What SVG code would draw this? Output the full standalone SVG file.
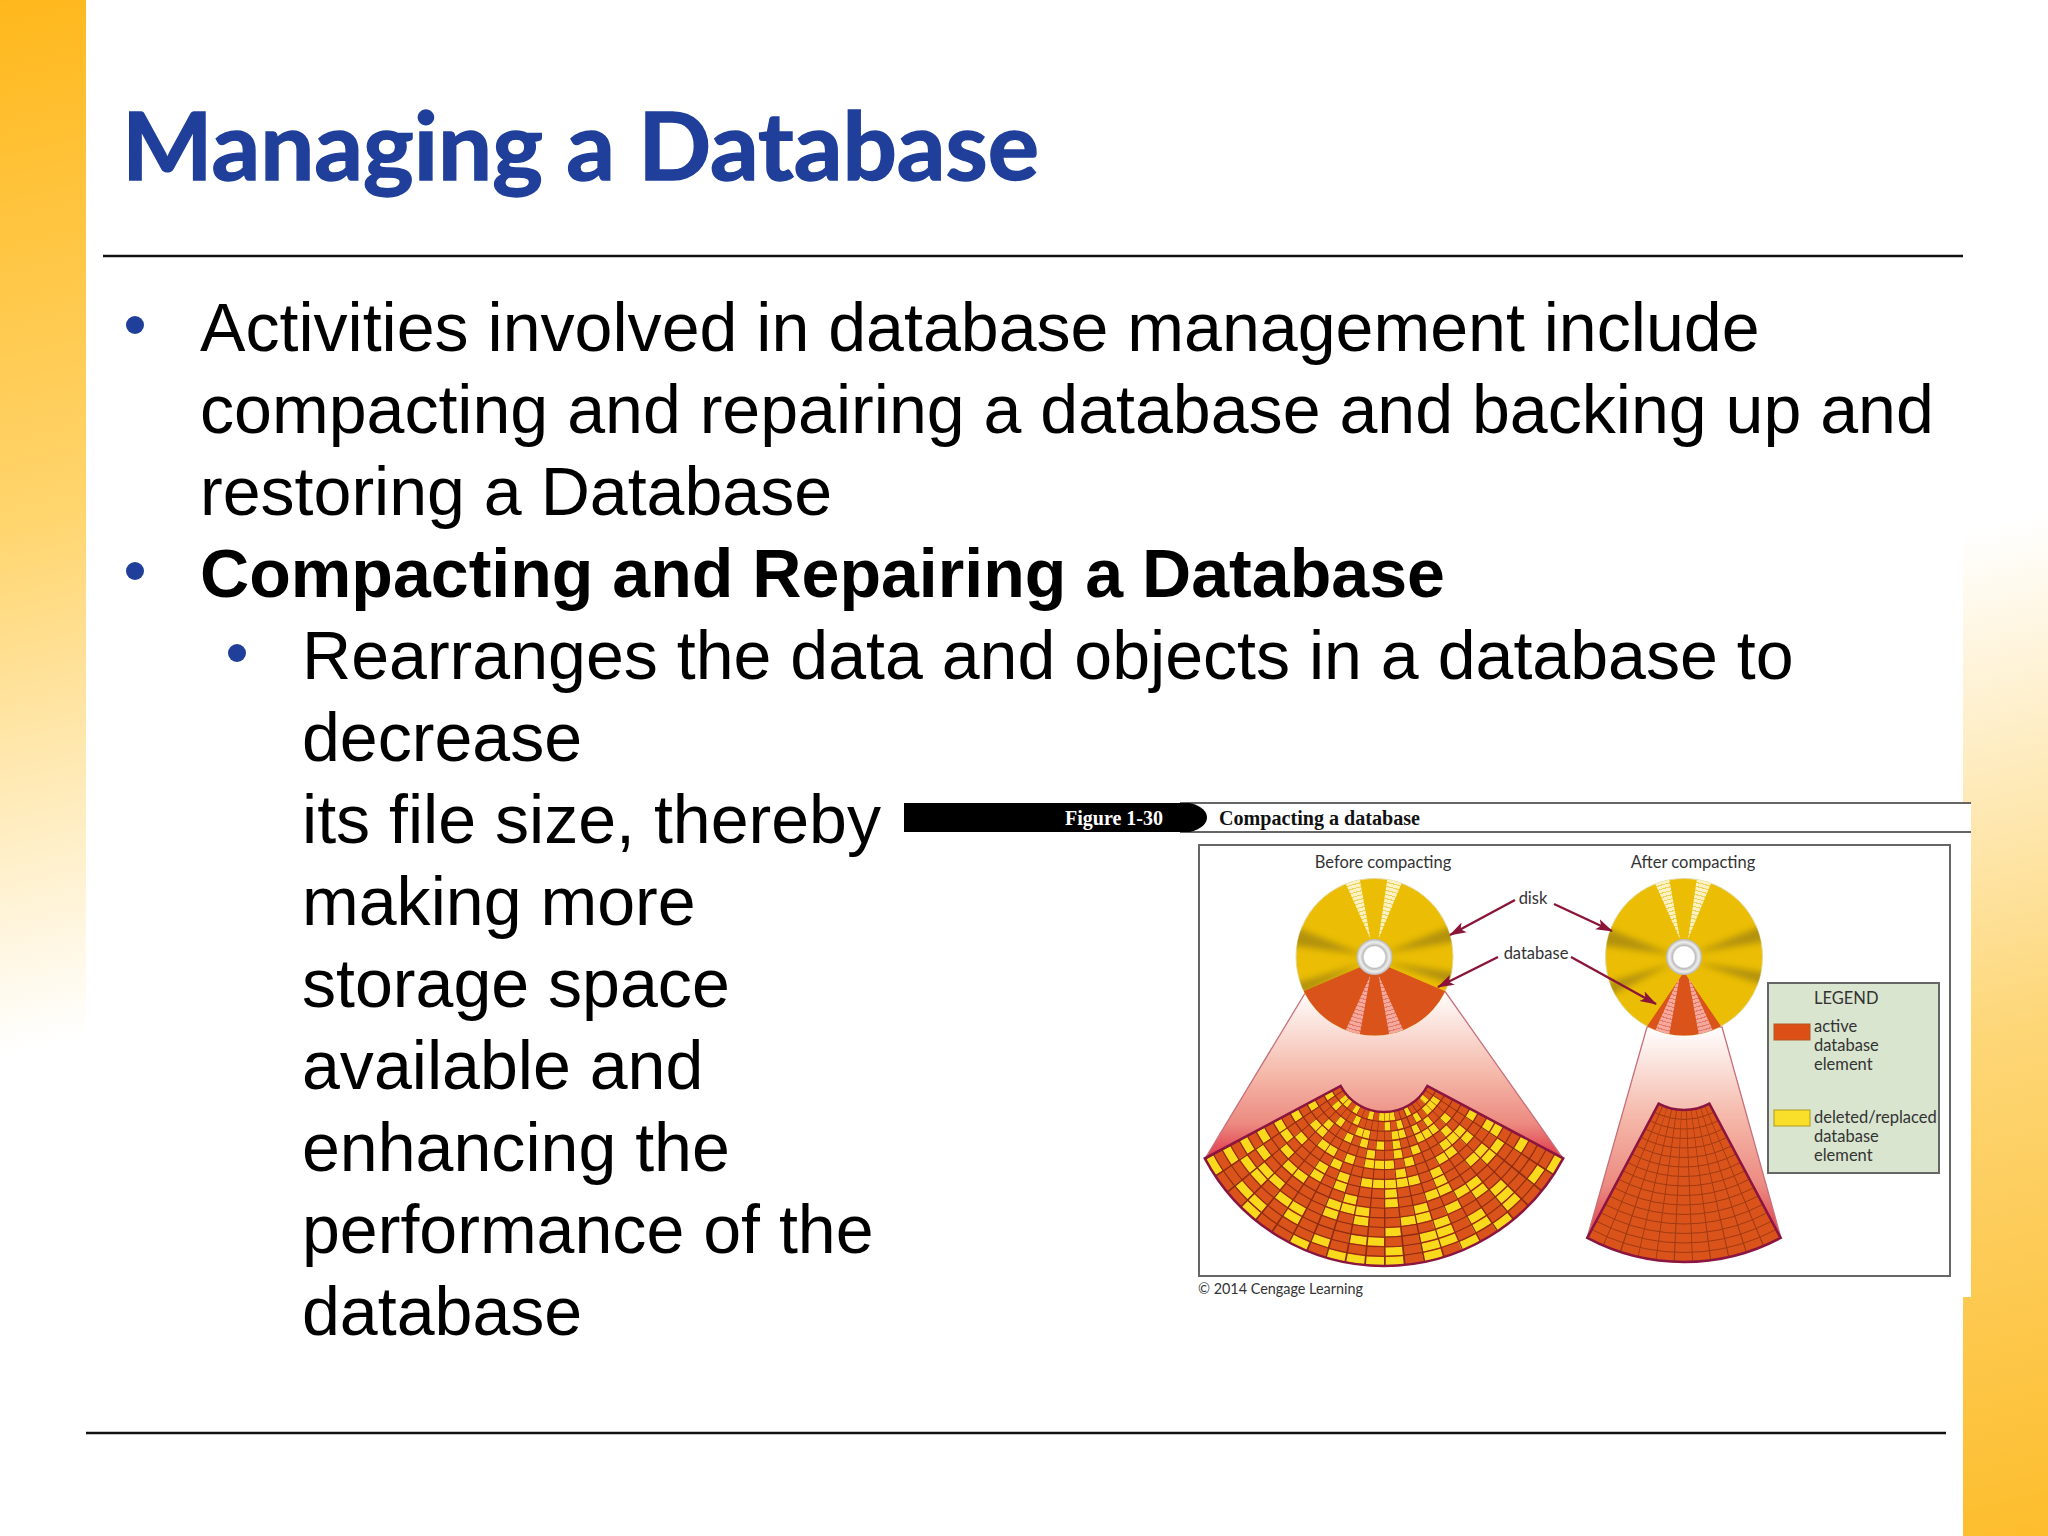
<svg xmlns="http://www.w3.org/2000/svg" xmlns:xlink="http://www.w3.org/1999/xlink" width="2048" height="1536" viewBox="0 0 2048 1536">
<style>
.b{font-family:"Liberation Sans",Arial,sans-serif;font-size:68.1px;fill:#000}
.s{font-family:Lato,"Noto Sans",sans-serif;font-size:16.5px;fill:#333}
.f{font-family:"Liberation Serif",serif;font-size:20px;font-weight:bold}
.bu{fill:#1f3f9a}
.y{fill:none;stroke:#f9d91c;stroke-width:8.2}
.g{fill:none;stroke:#8c2c12;stroke-width:1.1}
.g2{fill:none;stroke:#a03a14;stroke-width:1}
.o{fill:#d9531a}
.e{fill:none;stroke:#8a1540;stroke-width:2.5;stroke-linejoin:miter}
.a{fill:none;stroke:#8a1538;stroke-width:2.4;marker-end:url(#ah)}
.beam{stroke:#c8707a;stroke-width:1.3}
.fr{stroke:#666;stroke-width:2}
</style>
<defs>
<linearGradient id="gl" gradientUnits="userSpaceOnUse" x1="0" y1="0" x2="240" y2="1000"><stop offset="0" stop-color="#ffb81c"/><stop offset=".5" stop-color="#ffd56e"/><stop offset="1" stop-color="#fff"/></linearGradient>
<linearGradient id="gr" gradientUnits="userSpaceOnUse" x1="2048" y1="1536" x2="1810" y2="570"><stop offset="0" stop-color="#fdbd2c"/><stop offset=".5" stop-color="#fdd676"/><stop offset="1" stop-color="#fff"/></linearGradient>
<linearGradient id="b1" gradientUnits="userSpaceOnUse" x1="0" y1="990" x2="0" y2="1157"><stop offset="0" stop-color="#fff"/><stop offset=".5" stop-color="#f5b9aa"/><stop offset=".8" stop-color="#ec8a80"/><stop offset="1" stop-color="#e03a4c"/></linearGradient>
<linearGradient id="b2" gradientUnits="userSpaceOnUse" x1="0" y1="1027" x2="0" y2="1238"><stop offset="0" stop-color="#fff"/><stop offset=".42" stop-color="#f5b9aa"/><stop offset=".75" stop-color="#ec8a80"/><stop offset="1" stop-color="#e03a4c"/></linearGradient>
<radialGradient id="rc" gradientUnits="userSpaceOnUse" cx="0" cy="0" r="4" spreadMethod="repeat"><stop offset="0" stop-color="#fdf2c4"/><stop offset=".72" stop-color="#fdf2c4"/><stop offset=".73" stop-color="#f2d25a"/><stop offset="1" stop-color="#f2d25a"/></radialGradient>
<radialGradient id="rp" gradientUnits="userSpaceOnUse" cx="0" cy="0" r="4" spreadMethod="repeat"><stop offset="0" stop-color="#f3a8a0"/><stop offset=".72" stop-color="#f3a8a0"/><stop offset=".73" stop-color="#e67a60"/><stop offset="1" stop-color="#e67a60"/></radialGradient>
<radialGradient id="hub"><stop offset=".56" stop-color="#fff"/><stop offset=".64" stop-color="#bdbdbd"/><stop offset=".82" stop-color="#efefef"/><stop offset="1" stop-color="#b5b5b5"/></radialGradient>
<filter id="bl" x="-30%" y="-30%" width="160%" height="160%"><feGaussianBlur stdDeviation="3"/></filter>
<marker id="ah" markerUnits="userSpaceOnUse" markerWidth="18" markerHeight="12" refX="16" refY="6" orient="auto"><path d="M0,0.5 L17,6 L0,11.5 L4,6 Z" fill="#8a1538"/></marker>
<clipPath id="cd"><circle r="78.5"/></clipPath>
<clipPath id="cs1"><path d="M0,4 L-70.7,34.2 A78.5,78.5 0 0 0 70.7,34.2 Z"/></clipPath>
<clipPath id="cs2"><path d="M0,15 L-37,69.3 A78.5,78.5 0 0 0 37,69.3 Z"/></clipPath>
<clipPath id="cf1"><path d="M1204.8,1158.3 L1340.7,1086 A49 49 0 0 0 1427.3,1086 L1563.2,1158.3 A203 203 0 0 1 1204.8,1158.3 Z"/></clipPath>
<clipPath id="cf2"><path d="M1587.3,1237.9 L1658.6,1103.7 A54 54 0 0 0 1709.4,1103.7 L1780.7,1237.9 A206 206 0 0 1 1587.3,1237.9 Z"/></clipPath>
<g id="platter">
<circle r="78.5" fill="#ebbe05" stroke="#e3d9a0" stroke-width="1"/>
<g clip-path="url(#cd)">
<g fill="#a98a10" opacity=".85" filter="url(#bl)">
<path d="M-10,-2 L-85,-32 L-85,-12 Z"/>
<path d="M-10,6 L-85,44 L-85,28 Z"/>
<path d="M10,-4 L85,-34 L85,-16 Z"/>
<path d="M10,5 L85,30 L85,16 Z"/>
</g>
<path d="M-4,-18 L-30,-76 L-15,-79 Z" fill="url(#rc)"/>
<path d="M4,-18 L13,-79 L28,-76 Z" fill="url(#rc)"/>
</g>
</g>
<g id="spokes">
<path d="M-4,18 L-30,76 L-15,79 Z" fill="url(#rp)"/>
<path d="M4,18 L15,79 L30,76 Z" fill="url(#rp)"/>
</g>
<g id="hubg"><circle r="18" fill="url(#hub)"/></g>
</defs>

<rect width="2048" height="1536" fill="#fff"/>
<rect id="bar-left" x="0" y="0" width="86" height="1536" fill="url(#gl)"/>
<rect id="bar-right" x="1963" y="0" width="85" height="1536" fill="url(#gr)"/>

<path d="M103,256 H1963 M86,1433 H1946" stroke="#111" stroke-width="2.4" fill="none"/>

<text x="122" y="180" font-family="Lato,'Noto Sans',sans-serif" font-weight="700" font-size="93" fill="#1f3f9a" stroke="#1f3f9a" stroke-width="1.4" textLength="917" lengthAdjust="spacingAndGlyphs">Managing a Database</text>

<circle class="bu" cx="135" cy="325" r="9"/>
<circle class="bu" cx="135" cy="571" r="9"/>
<circle class="bu" cx="237" cy="653" r="9"/>
<text class="b" x="200" y="351">Activities involved in database management include</text>
<text class="b" x="200" y="433">compacting and repairing a database and backing up and</text>
<text class="b" x="200" y="515">restoring a Database</text>
<text class="b" x="200" y="597" font-weight="700">Compacting and Repairing a Database</text>
<text class="b" x="302" y="679">Rearranges the data and objects in a database to</text>
<text class="b" x="302" y="761">decrease</text>
<text class="b" x="302" y="843">its file size, thereby</text>
<text class="b" x="302" y="925">making more</text>
<text class="b" x="302" y="1007">storage space</text>
<text class="b" x="302" y="1089">available and</text>
<text class="b" x="302" y="1171">enhancing the</text>
<text class="b" x="302" y="1253">performance of the</text>
<text class="b" x="302" y="1335">database</text>

<g id="figure">
<rect x="1205" y="803" width="766" height="494" fill="#fff"/>
<path d="M1180,803 H1971 M1180,832 H1971" class="fr" fill="none"/>
<path d="M904,803 H1190 C1202,806 1207,812 1207,817.5 C1207,823 1202,829 1190,832 H904 Z" fill="#000"/>
<text class="f" x="1114" y="825" text-anchor="middle" fill="#fff">Figure 1-30</text>
<text class="f" x="1219" y="825" fill="#111" textLength="201" lengthAdjust="spacingAndGlyphs">Compacting a database</text>
<rect x="1199" y="845" width="751" height="431" fill="#fff" class="fr"/>
<text class="s" x="1383" y="868" text-anchor="middle">Before compacting</text>
<text class="s" x="1693" y="868" text-anchor="middle">After compacting</text>
<text class="s" x="1198" y="1294" style="font-size:14.4px">© 2014 Cengage Learning</text>

<polygon id="beam-before" class="beam" points="1307,990 1206,1157 1562,1157 1444,990" fill="url(#b1)"/>
<polygon id="beam-after" class="beam" points="1647,1027 1587,1238 1781,1238 1722,1027" fill="url(#b2)"/>

<g id="disk-before" transform="translate(1374.5 957)">
<use href="#platter"/>
<path class="o" d="M0,4 L-70.7,34.2 A78.5,78.5 0 0 0 70.7,34.2 Z"/>
<g clip-path="url(#cs1)"><use href="#spokes"/></g>
<use href="#hubg"/>
</g>
<g id="disk-after" transform="translate(1684 957)">
<use href="#platter"/>
<path class="o" d="M0,15 L-37,69.3 A78.5,78.5 0 0 0 37,69.3 Z"/>
<g clip-path="url(#cs2)"><use href="#spokes"/></g>
<use href="#hubg"/>
</g>

<g id="fan-before">
<path class="o" d="M1204.8,1158.3 L1340.7,1086 A49 49 0 0 0 1427.3,1086 L1563.2,1158.3 A203 203 0 0 1 1204.8,1158.3 Z"/>
<g clip-path="url(#cf1)">
<g transform="translate(1384 1063) scale(-1 1) rotate(28)">
<circle class="y" pathLength="63.871" r="53.8" stroke-dasharray="0 2 2 1 1 2 1 1 3 2 1 3 1 100"/>
<circle class="y" pathLength="63.871" r="63.4" stroke-dasharray="1 1 1 3 1 4 1 1 1 2 1 1 3 100"/>
<circle class="y" pathLength="63.871" r="73.1" stroke-dasharray="0 4 1 2 2 3 2 1 1 1 1 100"/>
<circle class="y" pathLength="63.871" r="82.7" stroke-dasharray="1 2 1 2 1 1 1 1 1 1 1 2 3 1 1 100"/>
<circle class="y" pathLength="63.871" r="92.3" stroke-dasharray="0 2 2 5 1 2 1 1 1 3 1 100"/>
<circle class="y" pathLength="63.871" r="101.9" stroke-dasharray="1 3 2 1 1 1 3 1 1 3 3 1 1 100"/>
<circle class="y" pathLength="63.871" r="111.6" stroke-dasharray="0 2 1 3 1 5 1 3 2 1 1 100"/>
<circle class="y" pathLength="63.871" r="121.2" stroke-dasharray="2 3 1 1 1 1 5 1 1 5 1 100"/>
<circle class="y" pathLength="63.871" r="130.8" stroke-dasharray="0 2 1 2 1 1 1 3 1 3 1 2 2 1 1 100"/>
<circle class="y" pathLength="63.871" r="140.4" stroke-dasharray="1 2 2 3 1 2 1 2 2 3 2 100"/>
<circle class="y" pathLength="63.871" r="150.1" stroke-dasharray="0 1 1 5 3 3 1 2 2 100"/>
<circle class="y" pathLength="63.871" r="159.7" stroke-dasharray="1 1 2 3 1 1 1 2 2 1 1 1 1 3 1 100"/>
<circle class="y" pathLength="63.871" r="169.3" stroke-dasharray="0 1 2 1 2 5 1 2 1 3 1 100"/>
<circle class="y" pathLength="63.871" r="178.9" stroke-dasharray="1 4 1 3 2 2 2 1 1 1 1 100"/>
<circle class="y" pathLength="63.871" r="188.6" stroke-dasharray="0 2 2 3 1 3 1 1 2 1 1 1 1 1 1 100"/>
<circle class="y" pathLength="63.871" r="198.2" stroke-dasharray="1 2 1 2 1 1 4 1 1 1 1 1 1 3 1 100"/>
<circle fill="none" stroke="#8c2c12" r="126" stroke-width="154" pathLength="63.871" stroke-dasharray="0.09 0.91"/>
</g>
<g transform="translate(1384 1063)">
<circle class="g" r="58.6"/><circle class="g" r="68.3"/><circle class="g" r="77.9"/><circle class="g" r="87.5"/><circle class="g" r="97.1"/><circle class="g" r="106.8"/><circle class="g" r="116.4"/><circle class="g" r="126"/><circle class="g" r="135.6"/><circle class="g" r="145.3"/><circle class="g" r="154.9"/><circle class="g" r="164.5"/><circle class="g" r="174.1"/><circle class="g" r="183.8"/><circle class="g" r="193.4"/>
</g>
</g>
<path class="e" d="M1204.8,1158.3 L1340.7,1086 A49 49 0 0 0 1427.3,1086 L1563.2,1158.3 A203 203 0 0 1 1204.8,1158.3 Z"/>
</g>

<g id="fan-after">
<path class="o" d="M1587.3,1237.9 L1658.6,1103.7 A54 54 0 0 0 1709.4,1103.7 L1780.7,1237.9 A206 206 0 0 1 1587.3,1237.9 Z"/>
<g clip-path="url(#cf2)">
<g transform="translate(1684 1056) rotate(62)">
<circle fill="none" stroke="#a03a14" r="130" stroke-width="152" pathLength="70.73" stroke-dasharray="0.075 0.925"/>
</g>
<g transform="translate(1684 1056)">
<circle class="g2" r="63.5"/><circle class="g2" r="73"/><circle class="g2" r="82.5"/><circle class="g2" r="92"/><circle class="g2" r="101.5"/><circle class="g2" r="111"/><circle class="g2" r="120.5"/><circle class="g2" r="130"/><circle class="g2" r="139.5"/><circle class="g2" r="149"/><circle class="g2" r="158.5"/><circle class="g2" r="168"/><circle class="g2" r="177.5"/><circle class="g2" r="187"/><circle class="g2" r="196.5"/>
</g>
</g>
<path class="e" d="M1587.3,1237.9 L1658.6,1103.7 A54 54 0 0 0 1709.4,1103.7 L1780.7,1237.9 A206 206 0 0 1 1587.3,1237.9 Z"/>
</g>

<g id="connectors">
<line class="a" x1="1515" y1="900" x2="1450" y2="935"/>
<line class="a" x1="1554" y1="904" x2="1612" y2="931"/>
<line class="a" x1="1498" y1="957" x2="1438" y2="987"/>
<line class="a" x1="1571" y1="957" x2="1656" y2="1004"/>
</g>
<text class="s" x="1533" y="904" text-anchor="middle">disk</text>
<text class="s" x="1536" y="959" text-anchor="middle">database</text>

<g id="legend">
<rect x="1768" y="983" width="171" height="190" fill="#d9e5cf" stroke="#666" stroke-width="2"/>
<text class="s" x="1814" y="1004">LEGEND</text>
<rect x="1774" y="1024" width="36" height="16" fill="#dc5018" stroke="#b05a20"/>
<text class="s" x="1814" y="1032">active</text>
<text class="s" x="1814" y="1051">database</text>
<text class="s" x="1814" y="1070">element</text>
<rect x="1774" y="1110" width="36" height="16" fill="#f9de2a" stroke="#b09a20"/>
<text class="s" x="1814" y="1123">deleted/replaced</text>
<text class="s" x="1814" y="1142">database</text>
<text class="s" x="1814" y="1161">element</text>
</g>
</g>
</svg>
